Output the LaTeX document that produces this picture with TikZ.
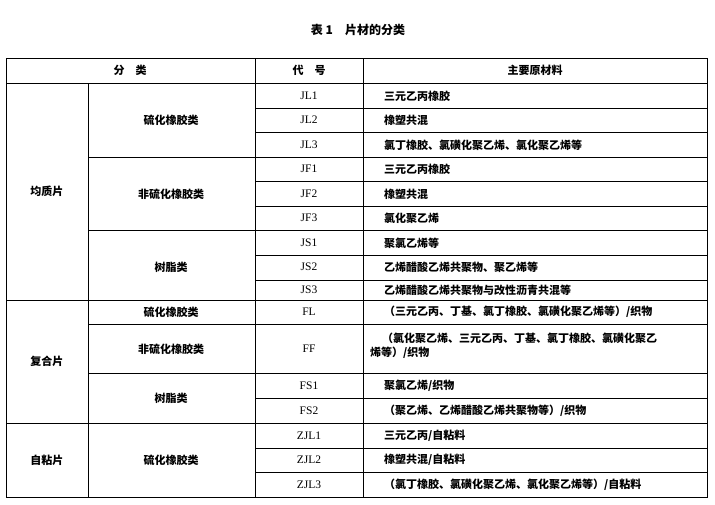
\documentclass[tikz,border=0pt]{standalone}
\usepackage{fontspec}
\setmainfont{Liberation Serif}
\newfontfamily\cjk{Noto Sans CJK SC}
\usetikzlibrary{positioning}
\begin{document}
\begin{tikzpicture}[
    x=1pt, y=-1pt,
    txt/.style={font=\cjk\bfseries\fontsize{11}{14}\selectfont, inner sep=0pt},
    codetxt/.style={font=\fontsize{11.5}{12}\selectfont, inner sep=0pt},
    mat/.style={txt, anchor=west},
    rule/.style={line width=0.7pt}
]
\useasboundingbox (0,0) rectangle (715,504);

% Title
\node[txt, font=\cjk\bfseries\fontsize{12}{13}\selectfont] (title) at (358,30) {表 1\quad 片材的分类};

% Frame and columns
\draw[rule, line width=1pt] (6,58) rectangle (707,497);
\draw[rule] (6,83) -- (707,83);
\draw[rule] (255,58) -- (255,497);
\draw[rule] (363,58) -- (363,497);
\draw[rule] (88,83) -- (88,497);

% Row rules
\foreach \y in {108,132,181,206,255,280,398,448,472}
  \draw[rule] (255,\y) -- (707,\y);
\foreach \y in {157,230,324,373}
  \draw[rule] (88,\y) -- (707,\y);
\foreach \y in {300,423}
  \draw[rule] (6,\y) -- (707,\y);

% Header
\node[txt] (hcat) at (130,70) {分\quad 类};
\node[txt] (hcode) at (309,70) {代\quad 号};
\node[txt] (hmat) at (535,70) {主要原材料};

% Groups
\node[txt] (g1) at (47,191) {均质片};
\node[txt] (g2) at (47,361) {复合片};
\node[txt] (g3) at (47,460) {自粘片};

% Sub-categories
\node[txt] (s1) at (171,120) {硫化橡胶类};
\node[txt] (s2) at (171,194) {非硫化橡胶类};
\node[txt] (s3) at (171,267) {树脂类};
\node[txt] (s4) at (171,312) {硫化橡胶类};
\node[txt] (s5) at (171,349) {非硫化橡胶类};
\node[txt] (s6) at (171,398) {树脂类};
\node[txt] (s7) at (171,460) {硫化橡胶类};

% Codes and materials
\foreach \c/\m/\y [count=\i] in {
  JL1/{三元乙丙橡胶}/96, JL2/{橡塑共混}/120, JL3/{氯丁橡胶、氯磺化聚乙烯、氯化聚乙烯等}/145,
  JF1/{三元乙丙橡胶}/169, JF2/{橡塑共混}/194, JF3/{氯化聚乙烯}/218,
  JS1/{聚氯乙烯等}/243, JS2/{乙烯醋酸乙烯共聚物、聚乙烯等}/267, JS3/{乙烯醋酸乙烯共聚物与改性沥青共混等}/290,
  FL/{（三元乙丙、丁基、氯丁橡胶、氯磺化聚乙烯等）/织物}/312,
  FS1/{聚氯乙烯/织物}/386, FS2/{（聚乙烯、乙烯醋酸乙烯共聚物等）/织物}/411,
  ZJL1/{三元乙丙/自粘料}/436, ZJL2/{橡塑共混/自粘料}/460, ZJL3/{（氯丁橡胶、氯磺化聚乙烯、氯化聚乙烯等）/自粘料}/485}
{
  \node[codetxt] (c\i) at (309,\y) {\c};
  \node[mat] (m\i) at (384,\y) {\m};
}
\node[codetxt] (cff) at (309,349) {FF};
\node[txt, anchor=north west, align=left, text width=335pt] (mff) at (370,333)
  {\hspace*{12pt}（氯化聚乙烯、三元乙丙、丁基、氯丁橡胶、氯磺化聚乙\\烯等）/织物};
\end{tikzpicture}
\end{document}
